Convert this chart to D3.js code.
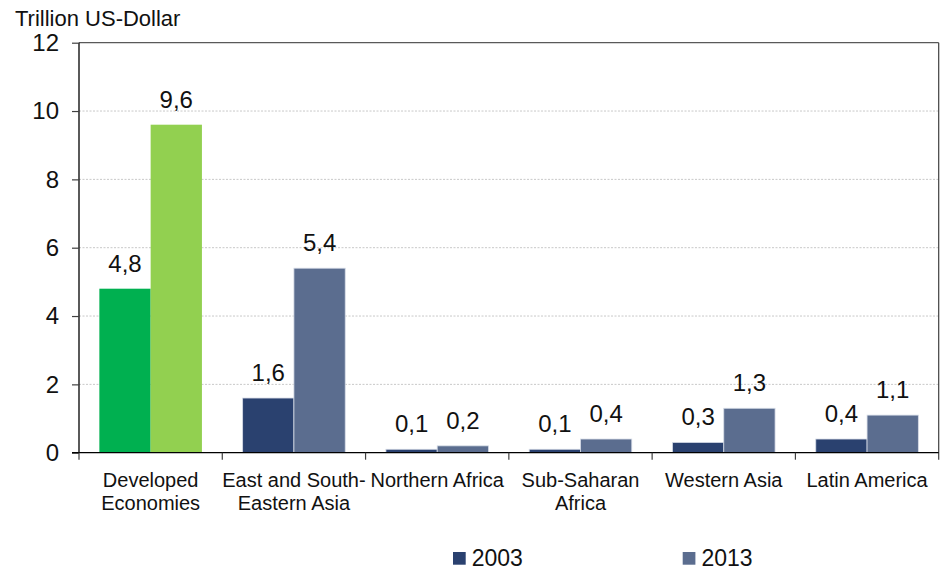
<!DOCTYPE html>
<html>
<head>
<meta charset="utf-8">
<script src="https://cdn.jsdelivr.net/npm/d3@7"></script>
<style>
  html, body { margin: 0; padding: 0; background: #fff; }
  svg { display: block; font-family: "Liberation Sans", Arial, sans-serif; }
</style>
</head>
<body>
<svg id="chart" width="940" height="571"></svg>
<script>
// Regions and their label lines
const categories = ["Developed Economies", "East and South-Eastern Asia", "Northern Africa",
                    "Sub-Saharan Africa", "Western Asia", "Latin America"];
const categoryLines = [["Developed", "Economies"], ["East and South-", "Eastern Asia"], ["Northern Africa"],
                       ["Sub-Saharan", "Africa"], ["Western Asia"], ["Latin America"]];
const seriesNames = ["2003", "2013"];
const values2003 = [4.8, 1.6, 0.1, 0.1, 0.3, 0.4];
const values2013 = [9.6, 5.4, 0.2, 0.4, 1.3, 1.1];
const yTicks = [0, 2, 4, 6, 8, 10, 12];

const seriesColors = ["#2a416f", "#5b6d8f"];
const highlightColors = ["#00b050", "#92d050"]; // Developed Economies

const svg = d3.select("#chart");
const x0 = 79, x1End = 938.7, yBase = 452.7, yTop = 42.7;

const x = d3.scaleBand().domain(categories).range([x0, x1End]).paddingInner(0).paddingOuter(0);
const xs = d3.scaleBand().domain(seriesNames).range([0, x.bandwidth()]).paddingInner(0).paddingOuter(0.397);
const y = d3.scaleLinear().domain([0, 12]).range([yBase, yTop]);

const fmt = d3.formatLocale({ decimal: ",", thousands: ".", grouping: [3], currency: ["", "€"] }).format(".1f");

// Gridlines
svg.append("g").selectAll("line")
  .data(yTicks.filter(t => t > 0 && t < 12))
  .join("line")
  .attr("x1", x0).attr("x2", x1End)
  .attr("y1", d => y(d)).attr("y2", d => y(d))
  .attr("stroke", "#c8c8c8").attr("stroke-width", 1)
  .attr("stroke-dasharray", "2,1.5");

// Top and right frame
svg.append("line").attr("x1", x0).attr("x2", x1End).attr("y1", y(12)).attr("y2", y(12))
  .attr("stroke", "#595959").attr("stroke-width", 1.2);
svg.append("line").attr("x1", x1End).attr("x2", x1End).attr("y1", y(12)).attr("y2", yBase + 7)
  .attr("stroke", "#404040").attr("stroke-width", 1.2);

// Bars
const rows = categories.map((c, i) => ({ c, i, vals: [values2003[i], values2013[i]] }));
const barData = rows.flatMap(r => r.vals.map((v, j) => ({ c: r.c, i: r.i, s: seriesNames[j], j, v })));

svg.append("g").selectAll("rect")
  .data(barData)
  .join("rect")
  .attr("x", d => x(d.c) + xs(d.s))
  .attr("width", xs.bandwidth())
  .attr("y", d => y(d.v))
  .attr("height", d => y(0) - y(d.v))
  .attr("fill", d => d.i === 0 ? highlightColors[d.j] : seriesColors[d.j])
  .attr("stroke", d => d.i === 0 ? "none" : "#d5dbe6")
  .attr("stroke-width", 0.8);

// Value labels
svg.append("g").selectAll("text")
  .data(barData)
  .join("text")
  .attr("x", d => x(d.c) + xs(d.s) + xs.bandwidth() / 2)
  .attr("y", d => y(d.v) - 17)
  .attr("text-anchor", "middle")
  .attr("font-size", 24)
  .attr("fill", "#111")
  .text(d => fmt(d.v));

// Y axis
const yAxis = svg.append("g").attr("transform", `translate(${x0},0)`)
  .call(d3.axisLeft(y).tickValues(yTicks).tickSize(7).tickPadding(13).tickFormat(d3.format("d")));
yAxis.select(".domain").attr("stroke", "#000").attr("stroke-width", 1.3).attr("d", `M0,${yBase}V${yTop}`);
yAxis.selectAll(".tick line").attr("stroke", "#404040").attr("stroke-width", 1.2);
yAxis.selectAll(".tick text").attr("font-size", 24).attr("fill", "#111")
  .attr("font-family", "\"Liberation Sans\", Arial, sans-serif");

// X axis
const xAxis = svg.append("g").attr("transform", `translate(0,${yBase})`);
xAxis.append("line").attr("x1", x0 - 7).attr("x2", x1End).attr("y1", 0).attr("y2", 0)
  .attr("stroke", "#000").attr("stroke-width", 1.3);
const boundaries = categories.map(c => x(c));
xAxis.selectAll("line.tk").data(boundaries).join("line").attr("class", "tk")
  .attr("x1", d => d).attr("x2", d => d).attr("y1", 0).attr("y2", 7)
  .attr("stroke", "#404040").attr("stroke-width", 1.2);

const catLabel = xAxis.selectAll("text.cat")
  .data(categories.map((c, i) => ({ c, lines: categoryLines[i] })))
  .join("text").attr("class", "cat")
  .attr("text-anchor", "middle")
  .attr("font-size", 20)
  .attr("fill", "#111");
catLabel.selectAll("tspan")
  .data(d => d.lines.map((l, k) => ({ l, k, cx: x(d.c) + x.bandwidth() / 2 })))
  .join("tspan")
  .attr("x", d => d.cx)
  .attr("y", d => 34 + d.k * 23)
  .text(d => d.l);

// Axis title
svg.append("text").attr("x", 15).attr("y", 26)
  .attr("font-size", 22).attr("fill", "#111")
  .text("Trillion US-Dollar");

// Legend
const legendX = [453, 682.7];
const legend = svg.append("g").selectAll("g")
  .data(seriesNames)
  .join("g")
  .attr("transform", (d, i) => `translate(${legendX[i]},552)`);
legend.append("rect").attr("width", 12.7).attr("height", 12.7)
  .attr("fill", (d, i) => seriesColors[i]);
legend.append("text").attr("x", 18.7).attr("y", 13.5)
  .attr("font-size", 23).attr("fill", "#111")
  .text(d => d);
</script>
</body>
</html>
